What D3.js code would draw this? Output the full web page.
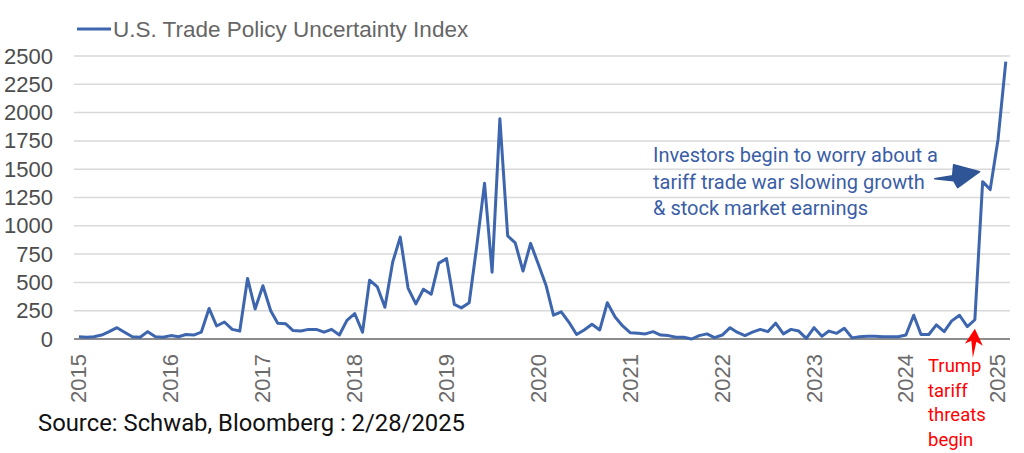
<!DOCTYPE html>
<html>
<head>
<meta charset="utf-8">
<script src="https://cdn.jsdelivr.net/npm/d3@7"></script>
<style>
  body { margin: 0; background: #fff; }
  svg { display: block; }
</style>
</head>
<body>
<svg id="chart" width="1024" height="453"></svg>
<script>
// monthly index, Jan 2015 .. Feb 2025
var startMonth = "2015-01";
var tpuValues = [
  20, 15, 20, 35, 65, 100, 60, 20, 15, 65, 20, 15,          // 2015
  30, 20, 40, 35, 60, 270, 115, 150, 85, 70, 535, 265,      // 2016
  470, 250, 140, 135, 75, 70, 85, 85, 60, 85, 35, 165,      // 2017
  225, 60, 520, 460, 280, 680, 900, 450, 310, 440, 395, 670, // 2018
  710, 305, 275, 320, 820, 1375, 590, 1945, 910, 850, 600, 845, // 2019
  660, 470, 210, 240, 150, 40, 80, 130, 80, 320, 195, 115,  // 2020
  55, 50, 45, 65, 35, 30, 15, 15, 0, 30, 45, 12,            // 2021
  35, 100, 60, 30, 60, 85, 65, 140, 45, 85, 70, 5,          // 2022
  100, 25, 70, 50, 95, 10, 20, 25, 25, 20, 20, 20,          // 2023
  35, 210, 40, 40, 125, 65, 160, 210, 110, 170, 1390, 1320, // 2024
  1760, 2450                                                // 2025
];
var yTicks = [0, 250, 500, 750, 1000, 1250, 1500, 1750, 2000, 2250, 2500];
var xYears = [2015, 2016, 2017, 2018, 2019, 2020, 2021, 2022, 2023, 2024, 2025];
var seriesName = "U.S. Trade Policy Uncertainty Index";
var sourceText = "Source: Schwab, Bloomberg : 2/28/2025";
var noteBlue = ["Investors begin to worry about a", "tariff trade war slowing growth", "& stock market earnings"];
var noteRed = ["Trump", "tariff", "threats", "begin"];

var svg = d3.select("#chart");
var axisFont = "'Liberation Sans', Arial, sans-serif";
var noteFont = "Roboto, 'Noto Sans', sans-serif";
var lineColor = "#3d66ae";

var t0 = d3.timeParse("%Y-%m")(startMonth);
var data = tpuValues.map(function(v, i) {
  return { date: d3.timeMonth.offset(t0, i), value: v };
});

var x = d3.scaleTime()
  .domain([new Date(2015, 0, 1), new Date(2025, 0, 1)])
  .range([79, 998]);

var y = d3.scaleLinear()
  .domain([0, 2500])
  .range([339, 56]);

var gridLeft = 74, gridRight = 1010;

// gridlines
svg.append("g")
  .selectAll("line")
  .data(yTicks.filter(function(d) { return d > 0; }))
  .enter().append("line")
  .attr("x1", gridLeft)
  .attr("x2", gridRight)
  .attr("y1", function(d) { return y(d); })
  .attr("y2", function(d) { return y(d); })
  .attr("stroke", "#d9d9d9")
  .attr("stroke-width", 1.5);

// zero baseline
svg.append("line")
  .attr("x1", gridLeft).attr("x2", gridRight)
  .attr("y1", y(0)).attr("y2", y(0))
  .attr("stroke", "#8c8c8c")
  .attr("stroke-width", 2);

// y axis labels
var yAxis = svg.append("g")
  .attr("transform", "translate(53,0)")
  .call(d3.axisLeft(y).tickValues(yTicks).tickFormat(d3.format("d")).tickSize(0).tickPadding(0));
yAxis.select(".domain").remove();
yAxis.selectAll("text")
  .attr("font-family", axisFont)
  .attr("font-size", 22)
  .attr("fill", "#4d4d4d");

// x axis labels, rotated
var xAxis = svg.append("g")
  .attr("transform", "translate(0," + y(0) + ")")
  .call(d3.axisBottom(x)
    .tickValues(xYears.map(function(yr) { return new Date(yr, 0, 1); }))
    .tickFormat(d3.timeFormat("%Y"))
    .tickSize(0));
xAxis.select(".domain").remove();
xAxis.selectAll("text")
  .attr("font-family", axisFont)
  .attr("font-size", 22)
  .attr("fill", "#6b6b6b")
  .attr("text-anchor", "end")
  .attr("transform", "rotate(-90)")
  .attr("x", -15)
  .attr("y", -1)
  .attr("dy", "0.36em");

// series line
var line = d3.line()
  .x(function(d) { return x(d.date); })
  .y(function(d) { return y(d.value); });

svg.append("path")
  .datum(data)
  .attr("d", line)
  .attr("fill", "none")
  .attr("stroke", lineColor)
  .attr("stroke-width", 3)
  .attr("stroke-linejoin", "round");

// legend
svg.append("line")
  .attr("x1", 77).attr("x2", 111)
  .attr("y1", 29).attr("y2", 29)
  .attr("stroke", lineColor)
  .attr("stroke-width", 3);
svg.append("text")
  .attr("x", 113)
  .attr("y", 37)
  .attr("font-family", axisFont)
  .attr("font-size", 22.5)
  .attr("fill", "#666")
  .text(seriesName);

// source
svg.append("text")
  .attr("x", 38)
  .attr("y", 431)
  .attr("font-family", noteFont)
  .attr("font-size", 23)
  .attr("textLength", 427)
  .attr("lengthAdjust", "spacingAndGlyphs")
  .attr("fill", "#111")
  .text(sourceText);

// blue note
svg.append("g")
  .selectAll("text")
  .data(noteBlue)
  .enter().append("text")
  .attr("x", 653)
  .attr("y", function(d, i) { return 162 + i * 26.5; })
  .attr("font-family", noteFont)
  .attr("font-size", 20)
  .attr("fill", "#3a5ea6")
  .text(function(d) { return d; });

// blue arrow, pointing at Nov 2024
var nov24 = data[118];
var bx = x(nov24.date) - 3, by = y(nov24.value) - 10;
svg.append("path")
  .attr("d", "M" + (bx - 45) + "," + (by + 7) +
             " L" + (bx - 27) + "," + (by + 4) +
             " L" + (bx - 26) + "," + (by - 7) +
             " L" + bx + "," + by +
             " L" + (bx - 22) + "," + (by + 16) +
             " L" + (bx - 26) + "," + (by + 9) +
             " Z")
  .attr("fill", "#2f5597")
  .attr("stroke", "#2f5597")
  .attr("stroke-width", 1.5)
  .attr("stroke-linejoin", "round");

// red note
svg.append("g")
  .selectAll("text")
  .data(noteRed)
  .enter().append("text")
  .attr("x", 928)
  .attr("y", function(d, i) { return 372 + i * 24.5; })
  .attr("font-family", noteFont)
  .attr("font-size", 18.5)
  .attr("fill", "#ff0000")
  .text(function(d) { return d; });

// red arrow, pointing at Oct 2024
var oct24 = data[117];
var rx = x(oct24.date), ry = y(oct24.value) + 9;
svg.append("path")
  .attr("d", "M" + rx + "," + ry +
             " L" + (rx + 8) + "," + (ry + 17) +
             " L" + (rx + 1.5) + "," + (ry + 13) +
             " L" + (rx - 2) + "," + (ry + 29) +
             " L" + (rx - 3.5) + "," + (ry + 12) +
             " L" + (rx - 10) + "," + (ry + 15) +
             " Z")
  .attr("fill", "#ff0000");
</script>
</body>
</html>
